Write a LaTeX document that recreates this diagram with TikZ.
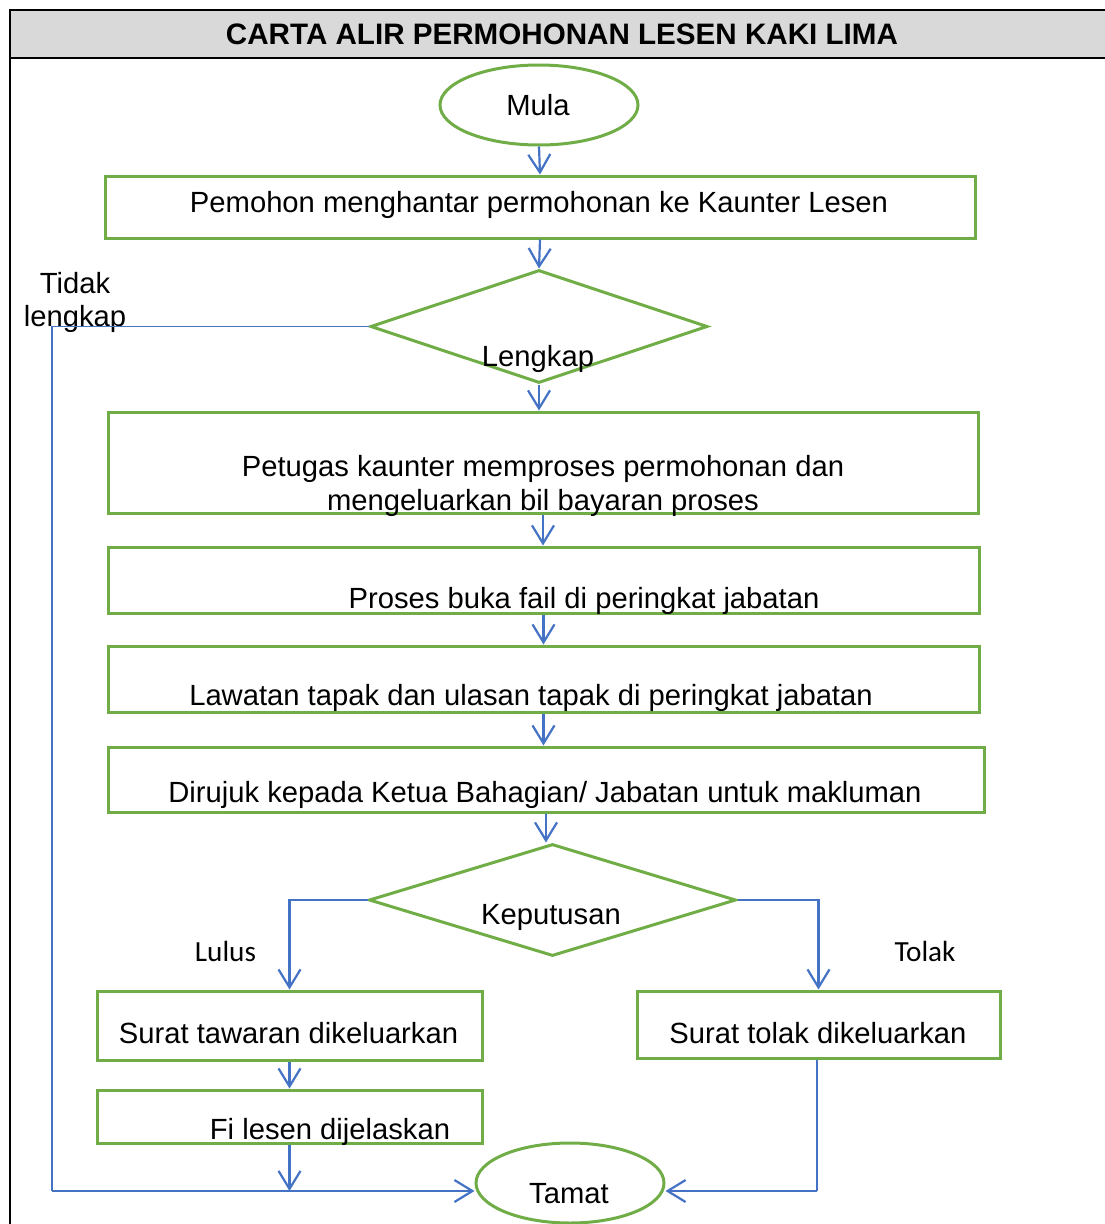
\documentclass[tikz,border=0pt]{standalone}
\usepackage{fontspec}
\setmainfont{Liberation Sans}
\newfontfamily\calibrifont{Carlito}
\usetikzlibrary{shapes.geometric,arrows.meta}
\definecolor{fgreen}{HTML}{70AD47}
\definecolor{fblue}{HTML}{4472C4}
\definecolor{hgrey}{HTML}{D9D9D9}
\begin{document}
\begin{tikzpicture}[x=1pt,y=-1pt,
  stepbox/.style={draw=fgreen, line width=3pt, inner sep=0pt, rectangle},
  oval/.style={draw=fgreen, line width=3pt, inner sep=0pt, ellipse},
  decision/.style={draw=fgreen, line width=3pt, inner sep=0pt, diamond},
  conn/.style={draw=fblue, line width=2.2pt, -{Straight Barb[length=18pt,width=22pt,line width=2.2pt]}},
  plainline/.style={draw=fblue, line width=1.6pt},
  txt/.style={inner sep=0pt, anchor=base, font=\fontsize{29.2}{35}\selectfont},
  ctxt/.style={inner sep=0pt, anchor=base, font=\calibrifont\fontsize{29.2}{35}\selectfont}
]
\useasboundingbox (0,0) rectangle (1105,1224);
% frame and header
\fill[hgrey] (10,10) rectangle (1105,58);
\draw[black, line width=2pt] (10,1224) -- (10,10) -- (1105,10);
\draw[black, line width=2pt] (10,58) -- (1105,58);
\node[txt, font=\bfseries\fontsize{29.6}{35}\selectfont] (title) at (562,44) {CARTA ALIR PERMOHONAN LESEN KAKI LIMA};

% shapes
\node[oval, minimum width=198pt, minimum height=80pt] (mula) at (539,105) {};
\node[stepbox, minimum width=870pt, minimum height=62pt] (b1) at (540,207) {};
\node[decision, minimum width=337pt, minimum height=113pt] (d1) at (539,326.5) {};
\node[stepbox, minimum width=870pt, minimum height=101pt] (b2) at (543,462.5) {};
\node[stepbox, minimum width=871pt, minimum height=66pt] (b3) at (543.5,580) {};
\node[stepbox, minimum width=871pt, minimum height=66pt] (b4) at (543.5,679) {};
\node[stepbox, minimum width=876pt, minimum height=65pt] (b5) at (546,779.5) {};
\node[decision, minimum width=367pt, minimum height=112pt] (d2) at (552.5,900) {};
\node[stepbox, minimum width=385pt, minimum height=69pt] (b6) at (289.5,1025.5) {};
\node[stepbox, minimum width=363pt, minimum height=67pt] (b7) at (818.5,1024.5) {};
\node[stepbox, minimum width=385pt, minimum height=53pt] (b8) at (289.5,1116.5) {};
\node[oval, minimum width=188pt, minimum height=80pt] (tamat) at (570,1183) {};

% texts
\node[txt] (tmula) at (538,115) {Mula};
\node[txt] (tb1) at (539,212) {Pemohon menghantar permohonan ke Kaunter Lesen};
\node[txt] (ttidak) at (75,293) {Tidak};
\node[txt] (tlengkap2) at (75,326) {lengkap};
\node[txt] (tlengkap) at (538,366) {Lengkap};
\node[txt] (tb2a) at (543,476) {Petugas kaunter memproses permohonan dan};
\node[txt] (tb2b) at (543,510) {mengeluarkan bil bayaran proses};
\node[txt] (tb3) at (584,608) {Proses buka fail di peringkat jabatan};
\node[txt] (tb4) at (531,705) {Lawatan tapak dan ulasan tapak di peringkat jabatan};
\node[txt] (tb5) at (545,802) {Dirujuk kepada Ketua Bahagian/ Jabatan untuk makluman};
\node[txt] (td2) at (551,924) {Keputusan};
\node[ctxt] (tlulus) at (225.5,961) {Lulus};
\node[ctxt] (ttolak) at (925,961) {Tolak};
\node[txt] (tb6) at (288.5,1043) {Surat tawaran dikeluarkan};
\node[txt] (tb7) at (818,1043) {Surat tolak dikeluarkan};
\node[txt] (tb8) at (330,1139) {Fi lesen dijelaskan};
\node[txt] (ttamat) at (569,1203) {Tamat};

% connectors
\coordinate (cB) at (52,1191);
\coordinate (cR) at (817,1191);
\draw[conn] (mula.south) -- (b1.north);
\draw[conn] (b1.south) -- (d1.north);
\draw[conn] (d1.south) -- (d1.south |- b2.north);
\draw[conn] (b2.south) -- (b2.south |- b3.north);
\draw[conn] (b3.south) -- (b3.south |- b4.north);
\draw[conn] (b4.south) -- (b4.south |- b5.north);
\draw[conn] (b5.south) -- (b5.south |- d2.north);
\draw[conn] (d2.west) -| (b6.north);
\draw[conn] (d2.east) -| (b7.north);
\draw[conn] (b6.south) -- (b8.north);
\draw[conn] (b8.south) -- (b8.south |- cB);
\draw[plainline] (d1.west) -| (cB);
\draw[conn, line width=2.8pt] (cB) -- (cB -| tamat.west);
\draw[plainline] (b7.south -| cR) -- (cR);
\draw[conn, line width=2.8pt] (cR) -- (cR -| tamat.east);
\end{tikzpicture}
\end{document}
